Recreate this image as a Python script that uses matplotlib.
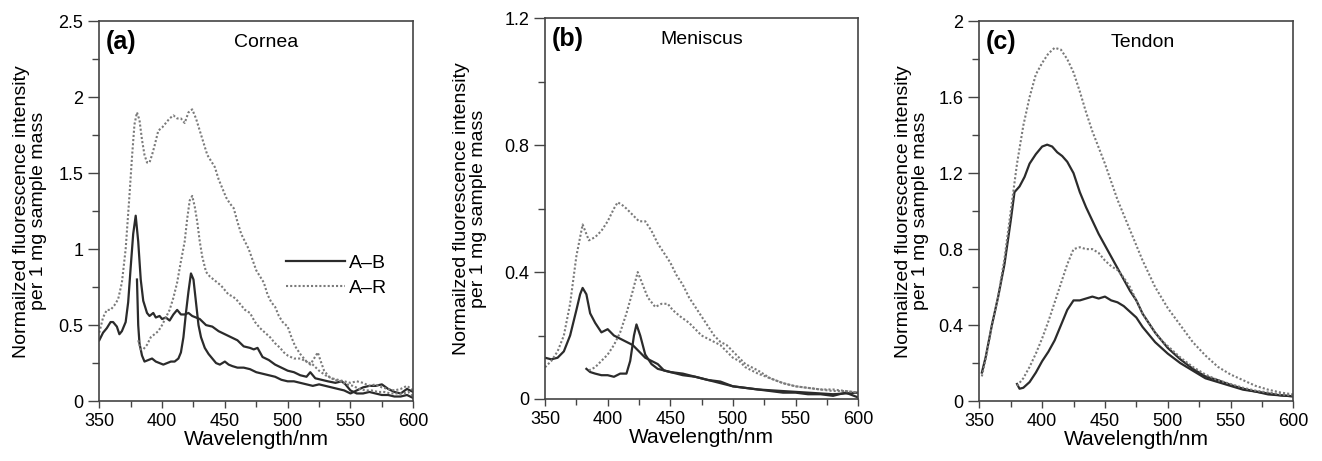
import matplotlib
matplotlib.use("Agg")
import matplotlib.pyplot as plt
from matplotlib.ticker import MultipleLocator

plt.rcParams['font.family'] = ['Liberation Sans', 'DejaVu Sans']

##########################################################################################
# Data (wavelength in nm, intensity per 1 mg sample mass)
##########################################################################################

# (a) Cornea
a_ab1_wl = [350, 353, 356, 359, 361, 364, 366, 368, 371, 373, 375, 377, 379, 381, 383, 385, 388, 390,
            393, 395, 398, 400, 403, 406, 409, 412, 415, 418, 421, 424, 427, 430, 435, 440, 445, 450,
            455, 460, 465, 470, 473, 476, 480, 485, 490, 495, 500, 505, 510, 515, 518, 522, 527, 532,
            538, 543, 546, 550, 555, 560, 565, 570, 575, 580, 585, 590, 595, 600]
a_ab1 = [0.40, 0.45, 0.48, 0.52, 0.52, 0.49, 0.44, 0.46, 0.52, 0.65, 0.88, 1.10, 1.22, 1.05, 0.80, 0.66,
         0.58, 0.56, 0.58, 0.55, 0.56, 0.54, 0.55, 0.53, 0.57, 0.60, 0.57, 0.57, 0.58, 0.56, 0.55, 0.54,
         0.50, 0.49, 0.46, 0.44, 0.42, 0.40, 0.36, 0.35, 0.34, 0.35, 0.29, 0.27, 0.24, 0.22, 0.20, 0.19,
         0.17, 0.16, 0.19, 0.15, 0.14, 0.13, 0.12, 0.13, 0.11, 0.07, 0.05, 0.05, 0.06, 0.05, 0.04, 0.04,
         0.03, 0.03, 0.04, 0.02]

a_ab2_wl = [380, 381, 382, 384, 386, 389, 392, 395, 398, 401, 404, 407, 410, 413, 415, 417, 419, 421,
            423, 425, 427, 429, 431, 434, 437, 440, 443, 446, 450, 453, 456, 460, 465, 470, 475, 480,
            485, 490, 495, 500, 505, 510, 515, 520, 525, 530, 535, 540, 545, 550, 555, 560, 565, 570,
            575, 580, 585, 590, 595, 600]
a_ab2 = [0.80, 0.50, 0.38, 0.30, 0.26, 0.27, 0.28, 0.26, 0.25, 0.24, 0.25, 0.26, 0.26, 0.28, 0.32, 0.42,
         0.58, 0.72, 0.84, 0.80, 0.65, 0.50, 0.42, 0.35, 0.31, 0.28, 0.25, 0.24, 0.26, 0.24, 0.23, 0.22,
         0.22, 0.21, 0.19, 0.18, 0.17, 0.16, 0.14, 0.13, 0.13, 0.12, 0.11, 0.10, 0.11, 0.10, 0.09, 0.08,
         0.07, 0.05, 0.07, 0.09, 0.10, 0.10, 0.11, 0.08, 0.06, 0.05, 0.08, 0.06]

a_ar1_wl = [350, 353, 356, 359, 362, 365, 368, 371, 374, 376, 378, 380, 382, 384, 386, 388, 390, 392,
            394, 397, 400, 403, 406, 409, 412, 415, 418, 421, 424, 427, 430, 433, 436, 439, 442, 445,
            448, 451, 454, 457, 460, 463, 466, 469, 472, 475, 478, 481, 484, 487, 490, 493, 496, 500,
            503, 506, 510, 515, 520, 525, 530, 535, 540, 545, 550, 555, 560, 565, 570, 575, 580, 585,
            590, 595, 600]
a_ar1 = [0.45, 0.55, 0.60, 0.60, 0.63, 0.67, 0.78, 1.00, 1.35, 1.60, 1.82, 1.90, 1.85, 1.72, 1.62, 1.57,
         1.57, 1.62, 1.68, 1.78, 1.80, 1.83, 1.86, 1.88, 1.86, 1.86, 1.83, 1.90, 1.92, 1.86, 1.78, 1.70,
         1.62, 1.58, 1.54, 1.46, 1.40, 1.34, 1.30, 1.27, 1.18, 1.10, 1.05, 1.00, 0.93, 0.86, 0.82, 0.78,
         0.70, 0.65, 0.62, 0.56, 0.52, 0.49, 0.42, 0.36, 0.31, 0.26, 0.24, 0.20, 0.17, 0.15, 0.14, 0.13,
         0.12, 0.13, 0.12, 0.10, 0.11, 0.09, 0.08, 0.07, 0.08, 0.10, 0.07]

a_ar2_wl = [381, 383, 385, 388, 391, 394, 397, 400, 403, 406, 409, 412, 415, 418, 420, 422, 424, 426,
            428, 430, 432, 435, 438, 441, 444, 447, 450, 453, 456, 459, 462, 466, 470, 474, 478, 482,
            486, 490, 494, 497, 500, 505, 510, 515, 518, 521, 524, 526, 529, 533, 537, 542, 547, 552,
            557, 562, 567, 572, 577, 582, 587, 592, 596, 600]
a_ar2 = [0.40, 0.34, 0.34, 0.37, 0.42, 0.44, 0.46, 0.50, 0.55, 0.60, 0.68, 0.78, 0.92, 1.05, 1.20, 1.32,
         1.35, 1.28, 1.18, 1.05, 0.95, 0.85, 0.82, 0.80, 0.78, 0.76, 0.73, 0.70, 0.69, 0.67, 0.64, 0.60,
         0.58, 0.52, 0.48, 0.45, 0.42, 0.38, 0.35, 0.32, 0.30, 0.28, 0.28, 0.26, 0.24, 0.28, 0.32, 0.27,
         0.20, 0.16, 0.14, 0.13, 0.11, 0.10, 0.08, 0.07, 0.07, 0.06, 0.06, 0.05, 0.05, 0.05, 0.06, 0.03]

# (b) Meniscus
b_ab1_wl = [350, 355, 360, 365, 370, 375, 378, 380, 383, 386, 390, 395, 400, 405, 410, 415, 420, 425,
            430, 435, 440, 445, 450, 460, 470, 480, 490, 500, 510, 520, 530, 540, 550, 560, 570, 580,
            590, 600]
b_ab1 = [0.13, 0.125, 0.13, 0.15, 0.20, 0.28, 0.33, 0.35, 0.33, 0.27, 0.24, 0.21, 0.22, 0.20, 0.19,
         0.18, 0.17, 0.15, 0.13, 0.12, 0.11, 0.09, 0.085, 0.075, 0.07, 0.06, 0.055, 0.04, 0.035, 0.03,
         0.025, 0.02, 0.02, 0.015, 0.015, 0.01, 0.02, 0.005]

b_ab2_wl = [383, 386, 390, 395, 400, 405, 410, 415, 418, 421, 423, 426, 430, 435, 440, 450, 460, 470,
            480, 490, 500, 520, 540, 560, 580, 600]
b_ab2 = [0.095, 0.085, 0.08, 0.075, 0.075, 0.07, 0.08, 0.08, 0.12, 0.20, 0.235, 0.20, 0.14, 0.11, 0.095,
         0.085, 0.08, 0.07, 0.06, 0.05, 0.04, 0.03, 0.025, 0.02, 0.015, 0.02]

b_ar1_wl = [350, 355, 360, 365, 370, 375, 380, 385, 390, 395, 400, 405, 408, 412, 415, 420, 425, 430,
            435, 440, 445, 450, 455, 460, 465, 470, 475, 480, 485, 490, 495, 500, 505, 510, 520, 530,
            540, 550, 560, 570, 580, 590, 600]
b_ar1 = [0.10, 0.12, 0.15, 0.20, 0.30, 0.45, 0.55, 0.50, 0.51, 0.53, 0.56, 0.60, 0.62, 0.61, 0.60, 0.58,
         0.56, 0.56, 0.53, 0.49, 0.46, 0.43, 0.39, 0.36, 0.32, 0.29, 0.26, 0.23, 0.20, 0.18, 0.17, 0.15,
         0.13, 0.11, 0.09, 0.065, 0.05, 0.04, 0.035, 0.03, 0.025, 0.025, 0.02]

b_ar2_wl = [385, 390, 395, 400, 405, 410, 415, 420, 424, 428, 432, 438, 443, 448, 452, 458, 465, 470,
            475, 480, 485, 490, 495, 500, 505, 510, 520, 530, 540, 550, 560, 570, 580, 590, 600]
b_ar2 = [0.09, 0.10, 0.12, 0.14, 0.17, 0.21, 0.27, 0.34, 0.40, 0.36, 0.32, 0.29, 0.30, 0.30, 0.28, 0.26,
         0.24, 0.22, 0.20, 0.19, 0.18, 0.17, 0.15, 0.13, 0.12, 0.10, 0.08, 0.065, 0.05, 0.04, 0.035, 0.03,
         0.03, 0.025, 0.02]

# (c) Tendon
c_ab1_wl = [352, 355, 360, 365, 370, 375, 378, 382, 386, 390, 395, 400, 404, 408, 412, 416, 420, 425,
            430, 435, 440, 445, 450, 455, 460, 465, 470, 475, 480, 485, 490, 495, 500, 510, 520, 530,
            540, 550, 560, 570, 580, 590, 600]
c_ab1 = [0.15, 0.23, 0.40, 0.55, 0.72, 0.95, 1.10, 1.13, 1.18, 1.25, 1.30, 1.34, 1.35, 1.34, 1.31, 1.29,
         1.26, 1.20, 1.10, 1.02, 0.95, 0.88, 0.82, 0.76, 0.70, 0.64, 0.58, 0.53, 0.46, 0.41, 0.36, 0.32,
         0.28, 0.22, 0.17, 0.13, 0.11, 0.085, 0.065, 0.05, 0.04, 0.03, 0.025]

c_ab2_wl = [380, 382, 385, 390, 395, 400, 405, 410, 415, 420, 425, 430, 435, 440, 445, 450, 455, 460,
            465, 470, 475, 480, 485, 490, 495, 500, 510, 520, 530, 540, 550, 560, 570, 580, 590, 600]
c_ab2 = [0.09, 0.065, 0.07, 0.10, 0.15, 0.21, 0.26, 0.32, 0.40, 0.48, 0.53, 0.53, 0.54, 0.55, 0.54, 0.55,
         0.53, 0.52, 0.50, 0.47, 0.44, 0.39, 0.35, 0.31, 0.28, 0.25, 0.20, 0.16, 0.12, 0.10, 0.08, 0.06,
         0.05, 0.035, 0.03, 0.025]

c_ar1_wl = [352, 355, 360, 365, 370, 375, 380, 385, 390, 395, 400, 405, 410, 415, 420, 425, 430, 435,
            440, 450, 460, 470, 480, 490, 500, 510, 520, 530, 540, 550, 560, 570, 580, 590, 600]
c_ar1 = [0.13, 0.22, 0.40, 0.55, 0.75, 1.00, 1.25, 1.45, 1.60, 1.72, 1.78, 1.83, 1.86, 1.85, 1.80, 1.73,
         1.63, 1.52, 1.42, 1.25, 1.06, 0.90, 0.74, 0.60, 0.49, 0.40, 0.31, 0.24, 0.18, 0.14, 0.11, 0.08,
         0.06, 0.045, 0.035]

c_ar2_wl = [380, 385, 390, 395, 400, 405, 410, 415, 420, 425, 430, 435, 440, 445, 450, 455, 460, 465,
            470, 475, 480, 485, 490, 495, 500, 510, 520, 530, 540, 550, 560, 570, 580, 590, 600]
c_ar2 = [0.08, 0.12, 0.18, 0.25, 0.33, 0.42, 0.52, 0.62, 0.72, 0.80, 0.81, 0.80, 0.80, 0.78, 0.74, 0.71,
         0.69, 0.65, 0.60, 0.53, 0.46, 0.41, 0.36, 0.32, 0.29, 0.23, 0.18, 0.14, 0.11, 0.09, 0.07, 0.055,
         0.045, 0.035, 0.03]

panel_letters = ['(a)', '(b)', '(c)']
tissues = ['Cornea', 'Meniscus', 'Tendon']
y_max = [2.5, 1.2, 2.0]
y_major = [0.5, 0.4, 0.4]
y_minor = [0.25, 0.2, 0.2]

ylabel = "Normailzed fluorescence intensity\nper 1 mg sample mass"

##########################################################################################
# Plot
##########################################################################################

fig = plt.figure(figsize=(13.22, 4.61), dpi=100)
axes = [fig.add_axes([0.0751, 0.130, 0.2375, 0.824]),
        fig.add_axes([0.4123, 0.1345, 0.2368, 0.826]),
        fig.add_axes([0.7408, 0.130, 0.2375, 0.824])]

curves = [
    [(a_ab1_wl, a_ab1, 'ab'), (a_ab2_wl, a_ab2, 'ab'), (a_ar1_wl, a_ar1, 'ar'), (a_ar2_wl, a_ar2, 'ar')],
    [(b_ab1_wl, b_ab1, 'ab'), (b_ab2_wl, b_ab2, 'ab'), (b_ar1_wl, b_ar1, 'ar'), (b_ar2_wl, b_ar2, 'ar')],
    [(c_ab1_wl, c_ab1, 'ab'), (c_ab2_wl, c_ab2, 'ab'), (c_ar1_wl, c_ar1, 'ar'), (c_ar2_wl, c_ar2, 'ar')],
]

ylabel_x = [-0.165, -0.184, -0.159]

for i, ax in enumerate(axes):
    handles = {}
    for wl, val, kind in curves[i]:
        if kind == 'ab':
            ln, = ax.plot(wl, val, color='#2b2b2b', lw=1.6, ls='-')
        else:
            ln, = ax.plot(wl, val, color='#7a7a7a', lw=1.5, ls=(0, (1, 1)))
        handles[kind] = ln

    ax.set_xlim(350, 600)
    ax.set_ylim(0, y_max[i])
    ax.xaxis.set_major_locator(MultipleLocator(50))
    ax.xaxis.set_minor_locator(MultipleLocator(25))
    ax.yaxis.set_major_locator(MultipleLocator(y_major[i]))
    ax.yaxis.set_minor_locator(MultipleLocator(y_minor[i]))
    ax.yaxis.set_major_formatter(plt.FuncFormatter(lambda v, p: f"{v:g}"))

    ax.tick_params(axis='x', which='major', direction='out', length=5, width=1, labelsize=13, color='#444')
    ax.tick_params(axis='x', which='minor', direction='out', length=4, width=1, color='#444')
    ax.tick_params(axis='y', which='major', direction='out', length=8, width=1, labelsize=13, color='#444')
    ax.tick_params(axis='y', which='minor', direction='out', length=5, width=1, color='#444')
    for sp in ax.spines.values():
        sp.set_color('#444')
        sp.set_linewidth(1.2)

    ax.set_xlabel("Wavelength/nm", fontsize=15)
    ax.xaxis.set_label_coords(0.5, -0.075)
    ax.set_ylabel(ylabel, fontsize=14, linespacing=1.0)
    ax.yaxis.set_label_coords(ylabel_x[i], 0.5)

    ax.text(0.02, 0.945, panel_letters[i], transform=ax.transAxes, fontsize=18,
            fontweight='bold', va='center', ha='left')
    ax.text([0.53, 0.50, 0.52][i], 0.945, tissues[i], transform=ax.transAxes, fontsize=14,
            va='center', ha='center')

    if i == 0:
        ax.legend([handles['ab'], handles['ar']], ['A\u2013B', 'A\u2013R'], frameon=False,
                  loc='center left', bbox_to_anchor=(0.54, 0.33), fontsize=14,
                  handlelength=3.0, handletextpad=0.2, labelspacing=0.4)

fig.savefig("out.png", dpi=100)
